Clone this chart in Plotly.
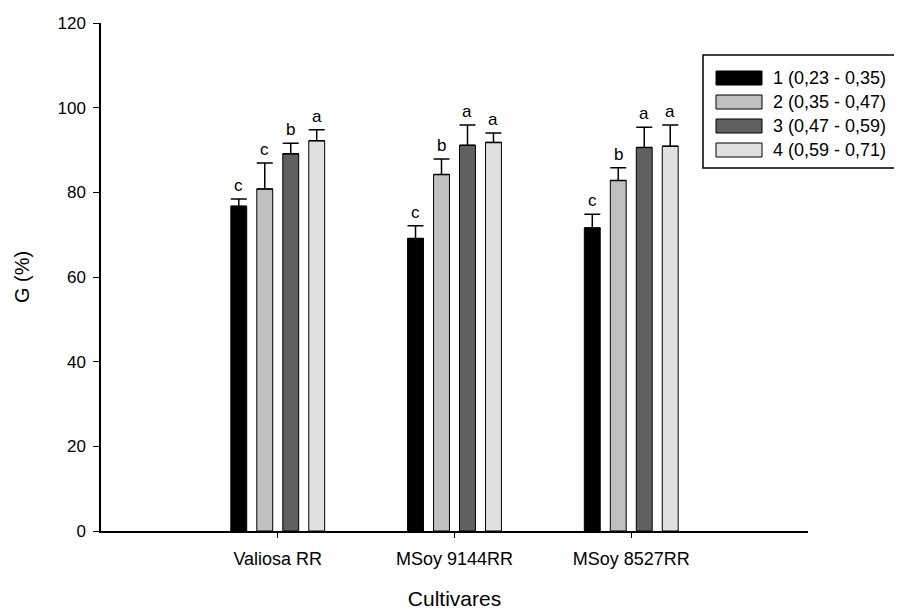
import plotly.graph_objects as go

cultivars = ["Valiosa RR", "MSoy 9144RR", "MSoy 8527RR"]
series_names = ["1 (0,23 - 0,35)", "2 (0,35 - 0,47)", "3 (0,47 - 0,59)", "4 (0,59 - 0,71)"]
series_colors = ["#000000", "#c0c0c0", "#606060", "#e0e0e0"]

g1 = [76.7, 69.1, 71.6]
g2 = [80.8, 84.2, 82.8]
g3 = [89.1, 91.1, 90.6]
g4 = [92.2, 91.8, 90.9]
err1 = [1.7, 3.0, 3.2]
err2 = [6.1, 3.7, 3.0]
err3 = [2.5, 4.8, 4.8]
err4 = [2.6, 2.2, 5.0]
let1 = ["c", "c", "c"]
let2 = ["c", "b", "b"]
let3 = ["b", "a", "a"]
let4 = ["a", "a", "a"]

values = [g1, g2, g3, g4]
errors = [err1, err2, err3, err4]
letters = [let1, let2, let3, let4]

y_ticks = [0, 20, 40, 60, 80, 100, 120]

FONT = "Liberation Sans, Arial, sans-serif"
pitch = 0.147
bar_w = 0.09

fig = go.Figure()
annotations = []
for j in range(4):
    off = (j - 1.5) * pitch
    xs = [i + off for i in range(len(cultivars))]
    fig.add_trace(go.Bar(
        x=xs, y=values[j], width=bar_w, name=series_names[j],
        marker=dict(color=series_colors[j], line=dict(color="black", width=1)),
        error_y=dict(type="data", array=errors[j], arrayminus=[0] * len(cultivars),
                     symmetric=False, color="black", thickness=1.5, width=8),
        showlegend=False,
    ))
    for i in range(len(cultivars)):
        annotations.append(dict(
            x=xs[i], y=values[j][i] + errors[j][i], xref="x", yref="y",
            text=letters[j][i], showarrow=False, yanchor="bottom", yshift=2,
            font=dict(family=FONT, size=17, color="black"),
        ))

# page offset of the plot div (browser default body margin)
OFF = 8
# target plot-area pixel edges in the screenshot
PX0, PX1, PY0, PY1 = 101, 808, 531, 23
def px(x):
    return (x - PX0) / (PX1 - PX0)
def py(y):
    return (PY0 - y) / (PY0 - PY1)

shapes = [dict(type="rect", xref="paper", yref="paper",
               x0=px(703), x1=px(899), y0=py(168), y1=py(55),
               line=dict(color="black", width=1.5), fillcolor="white", layer="above")]
row_y = [78, 102, 126, 150]
for j in range(4):
    shapes.append(dict(type="rect", xref="paper", yref="paper",
                       x0=px(716), x1=px(762), y0=py(row_y[j] + 7), y1=py(row_y[j] - 7),
                       line=dict(color="black", width=1), fillcolor=series_colors[j], layer="above"))
    annotations.append(dict(x=px(771), y=py(row_y[j]), xref="paper", yref="paper",
                            text=series_names[j], showarrow=False, xanchor="left", yanchor="middle",
                            font=dict(family=FONT, size=18, color="black")))

fig.update_layout(
    width=902, height=610,
    margin=dict(l=PX0 - OFF, r=902 - PX1 + OFF, t=PY1 - OFF, b=610 - PY0 + OFF, autoexpand=False),
    plot_bgcolor="white", paper_bgcolor="white",
    barmode="overlay",
    shapes=shapes, annotations=annotations,
    font=dict(family=FONT, color="black"),
    xaxis=dict(range=[-1, 3], tickvals=list(range(len(cultivars))), ticktext=cultivars,
               showgrid=False, zeroline=False, showline=True, linecolor="black", linewidth=1.5,
               ticks="outside", ticklen=5, tickwidth=1.2, tickcolor="black", automargin=False,
               tickfont=dict(family=FONT, size=18, color="black"), ticklabelstandoff=6,
               title=dict(text="Cultivares", font=dict(family=FONT, size=21, color="black"), standoff=23)),
    yaxis=dict(range=[0, 120], tickvals=y_ticks, showgrid=False, zeroline=False,
               showline=True, linecolor="black", linewidth=1.5, automargin=False,
               ticks="outside", ticklen=6, tickwidth=1.2, tickcolor="black",
               tickfont=dict(family=FONT, size=17, color="black"), ticklabelstandoff=4,
               title=dict(text="G (%)", font=dict(family=FONT, size=20, color="black"), standoff=22)),
)

fig.write_html("out.html")
